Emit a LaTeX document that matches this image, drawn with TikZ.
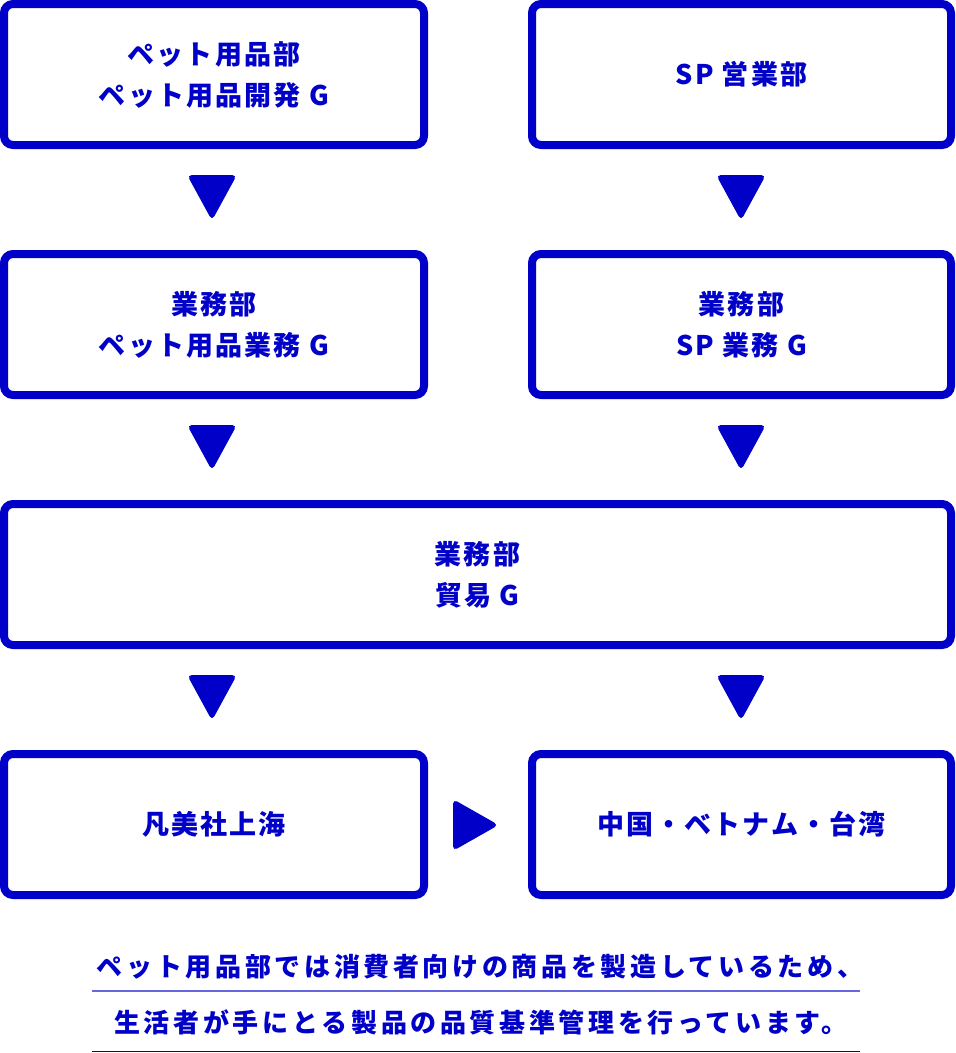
\documentclass[tikz,border=0pt]{standalone}
\usepackage{fontspec}
\newfontfamily\jp{Noto Sans CJK JP}[LetterSpace=8]
\newfontfamily\jpnote{Noto Sans CJK JP}[LetterSpace=14]
\usetikzlibrary{calc}
\definecolor{mainblue}{RGB}{0,0,200}
\tikzset{
  box/.style={draw=mainblue, line width=8pt, rounded corners=9pt, fill=white,
    minimum height=141pt, align=center, text=mainblue, inner sep=0pt,
    font=\jp\bfseries\fontsize{27}{41}\selectfont},
  note/.style={text=mainblue, inner sep=0pt, font=\jpnote\bfseries\fontsize{26}{30}\selectfont},
  tri/.style={fill=mainblue, draw=mainblue, line width=1pt, rounded corners=4pt},
  rule/.style={draw=mainblue, line width=1.2pt}
}
\begin{document}
\begin{tikzpicture}[x=1pt,y=-1pt]
\useasboundingbox (0,0) rectangle (956,1053);
% boxes
\node[box, minimum width=420pt] (a1) at (214,74.5) {ペット用品部\\ペット用品開発 G};
\node[box, minimum width=419pt] (b1) at (741.5,74.5) {SP 営業部};
\node[box, minimum width=420pt] (a2) at (214,324.5) {業務部\\ペット用品業務 G};
\node[box, minimum width=419pt] (b2) at (741.5,324.5) {業務部\\SP 業務 G};
\node[box, minimum width=947pt] (c) at (477.5,574.5) {業務部\\貿易 G};
\node[box, minimum width=420pt] (a4) at (214,824.5) {凡美社上海};
\node[box, minimum width=419pt] (b4) at (741.5,824.5) {中国・ベトナム・台湾};
% down triangles
\coordinate (t1) at (212,197.5);
\coordinate (t2) at (741,197.5);
\coordinate (t3) at (212,447.5);
\coordinate (t4) at (741,447.5);
\coordinate (t5) at (212,697.5);
\coordinate (t6) at (741,697.5);
\foreach \t in {t1,t2,t3,t4,t5,t6}{
  \filldraw[tri] ($(\t)+(-24,-22)$) -- ($(\t)+(24,-22)$) -- ($(\t)+(0,22)$) -- cycle;
}
% right triangle
\coordinate (r) at (475.5,825);
\filldraw[tri] ($(r)+(-22,-25)$) -- ($(r)+(22,0)$) -- ($(r)+(-22,25)$) -- cycle;
% bottom text
\node[note] (n1) at (480,967) {ペット用品部では消費者向けの商品を製造しているため、};
\node[note] (n2) at (481,1022) {生活者が手にとる製品の品質基準管理を行っています。};
\coordinate (l1a) at (92,991);
\coordinate (l1b) at (860,991);
\coordinate (l2a) at (92,1051.5);
\coordinate (l2b) at (860,1051.5);
\draw[rule, draw=mainblue!60] (l1a) -- (l1b);
\draw[rule] (l2a) -- (l2b);
\end{tikzpicture}
\end{document}
